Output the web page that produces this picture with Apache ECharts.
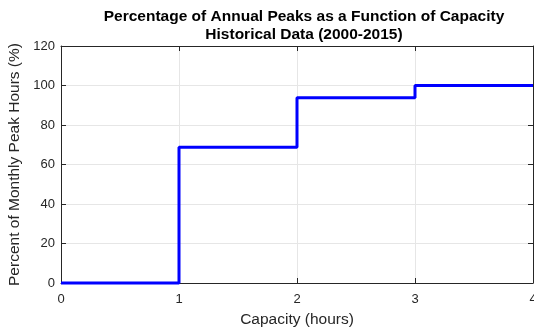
<!DOCTYPE html>
<html>
<head>
<meta charset="utf-8">
<script src="https://cdn.jsdelivr.net/npm/echarts@6/dist/echarts.min.js"></script>
<style>
html,body{margin:0;padding:0;background:#fff;}
#chart{width:534px;height:330px;}
</style>
</head>
<body>
<div id="chart"></div>
<script>
// capacity (hours) and percent of monthly peak hours
var capacity = [0, 1, 2, 3, 4];
var percent = [0, 68.75, 93.75, 100, 100];
var xTicks = [0, 1, 2, 3, 4];
var yTicks = [0, 20, 40, 60, 80, 100, 120];

var stepData = [];
for (var i = 0; i < capacity.length; i++) {
	stepData.push([capacity[i], percent[i]]);
}

var axisCol = '#262626';
var font = 'Liberation Sans, Arial, sans-serif';

function boxAxis(pos, isX) {
	return {
		type: 'value',
		position: pos,
		min: isX ? xTicks[0] : yTicks[0],
		max: isX ? xTicks[xTicks.length - 1] : yTicks[yTicks.length - 1],
		interval: isX ? 1 : 20,
		axisLine: { show: true, onZero: false, lineStyle: { color: axisCol, width: 1 } },
		axisTick: { show: true, inside: true, length: 5, lineStyle: { color: axisCol } },
		axisLabel: { show: false },
		splitLine: { show: false }
	};
}

var chart = echarts.init(document.getElementById('chart'));
option = {
	animation: false,
	title: {
		text: 'Percentage of Annual Peaks as a Function of Capacity\nHistorical Data (2000-2015)',
		left: 299,
		top: 3,
		textAlign: 'center',
		textStyle: { fontFamily: font, fontSize: 15.5, fontWeight: 'bold', color: '#000', lineHeight: 18 }
	},
	grid: { left: 61, right: 1, top: 46, bottom: 47, containLabel: false, outerBoundsMode: 'none' },
	xAxis: [{
		type: 'value',
		min: 0,
		max: 4,
		interval: 1,
		name: 'Capacity (hours)',
		nameLocation: 'middle',
		nameGap: 29,
		nameTextStyle: { fontFamily: font, fontSize: 15.5, color: axisCol },
		axisLine: { show: true, onZero: false, lineStyle: { color: axisCol, width: 1 } },
		axisTick: { show: true, inside: true, length: 5, lineStyle: { color: axisCol } },
		axisLabel: { fontFamily: font, fontSize: 13, color: axisCol, margin: 10 },
		splitLine: { show: true, lineStyle: { color: '#e6e6e6', width: 1 } }
	}, boxAxis('top', true)],
	yAxis: [{
		type: 'value',
		min: 0,
		max: 120,
		interval: 20,
		name: 'Percent of Monthly Peak Hours (%)',
		nameLocation: 'middle',
		nameGap: 30,
		nameTextStyle: { fontFamily: font, fontSize: 15.5, color: axisCol },
		axisLine: { show: true, onZero: false, lineStyle: { color: axisCol, width: 1 } },
		axisTick: { show: true, inside: true, length: 5, lineStyle: { color: axisCol } },
		axisLabel: { fontFamily: font, fontSize: 13, color: axisCol, margin: 6 },
		splitLine: { show: true, lineStyle: { color: '#e6e6e6', width: 1 } }
	}, boxAxis('right', false)],
	series: [{
		type: 'line',
		step: 'end',
		data: stepData,
		showSymbol: false,
		symbol: 'none',
		lineStyle: { color: '#0000ff', width: 3 },
		clip: false
	}]
};
chart.setOption(option);
</script>
</body>
</html>
